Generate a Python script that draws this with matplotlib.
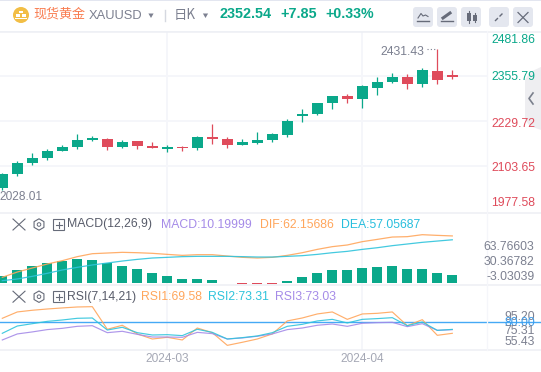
import matplotlib
matplotlib.use('Agg')
import matplotlib.pyplot as plt
from matplotlib.patches import Circle, FancyBboxPatch, Polygon, RegularPolygon, Rectangle

W, H = 541, 372
plt.rcParams['font.family'] = ['Liberation Sans', 'Noto Sans CJK SC', 'DejaVu Sans']

# candles
opens = [2043.0, 2082.2, 2113.0, 2127.0, 2146.6, 2157.8, 2177.4, 2180.2, 2157.8, 2174.6,
         2160.6, 2152.2, 2157.8, 2155.0, 2185.8, 2180.2, 2163.4, 2169.0, 2177.4, 2191.4,
         2244.7, 2250.3, 2281.1, 2300.7, 2292.3, 2323.1, 2339.9, 2353.9, 2334.3, 2370.7, 2359.5]
closes = [2082.2, 2113.0, 2127.0, 2146.6, 2157.8, 2177.4, 2183.0, 2157.8, 2171.8, 2160.6,
          2155.0, 2157.8, 2155.9, 2185.8, 2180.2, 2163.4, 2171.8, 2177.4, 2194.2, 2230.6,
          2250.3, 2281.1, 2300.7, 2292.3, 2328.7, 2339.9, 2353.9, 2334.3, 2373.5, 2345.5, 2353.9]
highs = [2085.0, 2118.6, 2141.0, 2152.2, 2163.4, 2194.2, 2189.5, 2183.0, 2177.4, 2174.6,
         2171.8, 2163.4, 2160.6, 2188.6, 2222.3, 2185.8, 2180.2, 2199.8, 2197.0, 2236.2,
         2264.3, 2281.1, 2300.7, 2306.3, 2331.5, 2353.9, 2365.1, 2362.3, 2379.1, 2431.43, 2373.5]
lows = [2037.3, 2076.6, 2107.4, 2121.4, 2145.7, 2152.2, 2174.6, 2149.4, 2155.0, 2152.2,
        2155.0, 2143.8, 2146.6, 2149.4, 2166.2, 2155.0, 2163.4, 2166.2, 2171.8, 2185.8,
        2227.8, 2247.5, 2264.3, 2281.1, 2267.1, 2303.5, 2337.1, 2320.3, 2325.9, 2334.3, 2348.3]

# MACD pane
hist = [9.7, 17.2, 22.4, 26.0, 29.0, 31.7, 30.4, 26.4, 22.4, 18.5, 13.2, 9.2, 5.3, 5.3, 4.0,
        0.6, -1.0, -1.6, -0.9, 2.6, 7.9, 13.2, 17.2, 17.2, 19.8, 21.1, 22.4, 18.5, 18.5, 13.2, 10.2]
dif = [7.5, 14.5, 19.8, 25.1, 29.5, 34.8, 38.7, 39.6, 40.5, 40.0, 39.2, 37.8, 36.5, 37.4, 37.4,
       35.6, 33.9, 33.0, 33.9, 36.5, 40.0, 44.4, 48.0, 50.2, 54.6, 57.6, 60.7, 61.2, 63.8, 62.9, 62.16]
dea = [3.1, 5.3, 8.8, 12.8, 17.2, 20.7, 23.8, 26.4, 29.0, 31.2, 33.0, 33.9, 34.8, 35.2, 35.2,
       35.2, 34.8, 34.3, 34.3, 35.2, 36.1, 37.8, 40.0, 41.8, 44.4, 46.6, 49.3, 51.5, 53.7, 55.4, 57.06]

# RSI pane
rsi1 = [83.8, 89.8, 91.4, 92.6, 93.6, 94.5, 94.8, 73.4, 77.2, 69.0, 64.2, 65.8, 63.3, 74.6, 70.2,
        58.2, 61.1, 64.2, 69.0, 81.3, 84.1, 87.9, 89.8, 82.8, 87.9, 88.5, 89.8, 76.8, 82.5, 67.7, 69.58]
rsi2 = [69.6, 76.5, 78.7, 80.9, 82.2, 83.8, 84.1, 72.7, 75.3, 70.2, 68.0, 68.3, 67.4, 73.4, 70.5,
        64.2, 65.5, 67.1, 70.2, 76.2, 78.1, 81.3, 82.8, 79.4, 82.8, 83.5, 84.4, 76.8, 80.3, 72.4, 73.31]
rsi3 = [63.3, 69.0, 70.9, 73.1, 74.3, 76.2, 76.8, 70.2, 71.5, 68.6, 66.1, 66.1, 65.8, 70.5, 69.3,
        64.2, 65.2, 66.8, 69.0, 73.1, 74.6, 77.2, 78.4, 76.2, 79.1, 79.7, 80.0, 75.9, 78.7, 72.4, 73.03]

price_ticks = [2481.86, 2355.79, 2229.72, 2103.65]
price_labels = ['2481.86', '2355.79', '2229.72', '2103.65', '1977.58']
macd_labels = ['63.76603', '30.36782', '-3.03039']
rsi_labels = ['95.20', '80.00', '75.31', '55.43']
month_labels = ['2024-03', '2024-04']
month_pos = [11, 24]

TEAL = '#0AA88A'
RED = '#DF4B5B'
GRID = '#F5F6FA'
SEP = '#EDEFF4'
GREY = '#7C8090'
ORANGE = '#FFA65C'
CYAN = '#2FC4DC'
PURPLE = '#A58BE8'
ICON = '#666B79'

x = list(range(len(opens)))
# one candle every 15 px, first one centred at 2.3 px
XLIM = (-2.3 / 15, (W - 2.3) / 15)
GRID_END = 487 / W  # grid stops at the price column

fig = plt.figure(figsize=(W / 100, H / 100), dpi=100, facecolor='white')


def pane(top, bottom, ylim):
    ax = fig.add_axes([0, 1 - bottom / H, 1, (bottom - top) / H])
    ax.set_xlim(*XLIM)
    ax.set_ylim(*ylim)
    ax.patch.set_alpha(0)
    ax.set_xticks([])
    ax.set_yticks([])
    for s in ax.spines.values():
        s.set_visible(False)
    for m in month_pos:
        ax.axvline(m, color=GRID, lw=1.3, zorder=0)
    return ax


# main pane
ax1 = pane(31, 212.7, (1973.8, 2482.8))
for p in price_ticks:
    ax1.axhline(p, xmax=GRID_END, color=GRID, lw=1.3, zorder=0)
for i in x:
    col = TEAL if closes[i] >= opens[i] else RED
    ax1.vlines(i, lows[i], highs[i], color=col, lw=0.9, zorder=2)
    ax1.bar(i, abs(closes[i] - opens[i]), bottom=min(opens[i], closes[i]), width=0.73, color=col, zorder=3)
hi = max(highs)
hi_i = highs.index(hi)
ax1.plot([hi_i - 0.72, hi_i], [hi, hi], color=GREY, lw=0.8, ls=(0, (1, 2)))
ax1.text(hi_i - 0.87, hi - 7, f'{hi:.2f}', ha='right', va='center', color=GREY, fontsize=8.8)

# MACD pane
ax2 = pane(212.7, 285, (-2.64, 92.84))
ax2.bar(x, hist, width=0.67, color=[TEAL if v > 0 else RED for v in hist], zorder=2)
ax2.plot(x, dif, color=ORANGE, lw=0.9, alpha=0.9, zorder=3)
ax2.plot(x, dea, color=CYAN, lw=0.9, alpha=0.9, zorder=3)

# RSI pane
ax3 = pane(285, 350, (53.8, 115.3))
ax3.axhline(80, color='#45A9F5', lw=1.0, zorder=1)
ax3.plot(x, rsi1, color=ORANGE, lw=0.85, alpha=0.9, zorder=2)
ax3.plot(x, rsi2, color=CYAN, lw=0.85, alpha=0.9, zorder=3)
ax3.plot(x, rsi3, color=PURPLE, lw=0.85, alpha=0.9, zorder=2)

# page furniture in pixel coordinates
ui = fig.add_axes([0, 0, 1, 1], zorder=5)
ui.set_xlim(0, W)
ui.set_ylim(H, 0)
ui.axis('off')
ui.patch.set_alpha(0)

ui.add_patch(Rectangle((0, 0), W, 1, color='#E3E6F0', lw=0))
ui.add_patch(Polygon([(541, 67), (530, 72), (525, 80), (525, 120), (530, 126), (541, 130)], color='#EEEEF1', lw=0, zorder=0))
ui.plot([533, 529, 533], [93, 98.5, 104], color='#7A7F8C', lw=1.2)
ui.plot([540.5, 540.5], [55, H], color='#8F93A0', lw=0.7)
for yy, c in [(31.5, SEP), (212.7, SEP), (285, SEP), (350, SEP)]:
    ui.plot([0, 541], [yy, yy], color=c, lw=1.1, zorder=0)
ui.plot([487, 487], [31, 350], color=GRID, lw=0.9, zorder=0)

# header
ui.add_patch(Circle((21, 15), 8, color='#F2BE45', lw=0))
ui.add_patch(Rectangle((19, 10.5), 4, 2.5, color='white', lw=0))
ui.add_patch(Rectangle((16, 14), 4, 3, color='white', lw=0))
ui.add_patch(Rectangle((21.5, 14), 4, 3, color='white', lw=0))
ui.add_patch(Rectangle((15, 17.5), 12, 1, color='white', lw=0))
ui.text(33, 14.5, '现货黄金', color='#F97C50', fontsize=9.4, va='center', family=['Noto Sans CJK SC', 'DejaVu Sans'])
ui.text(89, 16, 'XAUUSD', color=GREY, fontsize=9.3, va='center')
# y axis is flipped here, so orientation 0 points down
ui.add_patch(RegularPolygon((151, 15), 3, radius=3, orientation=0, color=GREY, lw=0))
ui.plot([164.5, 164.5], [10, 21], color='#D5D8E0', lw=1)
ui.text(174, 14.5, '日K', color=GREY, fontsize=9.6, va='center', family=['Noto Sans CJK SC', 'DejaVu Sans'])
ui.add_patch(RegularPolygon((205.5, 15), 3, radius=3, orientation=0, color=GREY, lw=0))
ui.text(219, 14.5, '2352.54', color=TEAL, fontsize=10.4, weight='bold', va='center')
ui.text(280, 14.5, '+7.85', color=TEAL, fontsize=10.4, weight='bold', va='center')
ui.text(325, 14.5, '+0.33%', color=TEAL, fontsize=10.2, weight='bold', va='center')

# buttons top right
for bx in [413, 437, 461, 489, 513]:
    ui.add_patch(FancyBboxPatch((bx + 2, 9), 16, 16, boxstyle='round,pad=2,rounding_size=3', color='#E4E7EF', lw=0))
ui.plot([418, 421, 423, 425.5, 428], [18, 13.5, 16, 15, 16.5], color=ICON, lw=0.8)
ui.plot([417, 429], [20.5, 20.5], color=ICON, lw=1.0)
ui.plot([443, 450], [18, 13], color=ICON, lw=2.2)
ui.plot([441, 453], [20.5, 20.5], color=ICON, lw=1.0)
ui.add_patch(Rectangle((467, 13), 4, 8, color=ICON, lw=0))
ui.add_patch(Rectangle((473, 15), 4, 6, color=ICON, lw=0))
ui.plot([469, 469], [11, 23], color=ICON, lw=0.8)
ui.plot([475, 475], [13, 22], color=ICON, lw=0.8)
ui.plot([495, 503], [21, 13], color=ICON, lw=1, ls=(0, (3, 1.6)))
ui.plot([518, 528], [12.5, 22.5], color=ICON, lw=0.9)
ui.plot([518, 528], [22.5, 12.5], color=ICON, lw=0.9)

# price labels, the outer ones are pushed inward in the reference
for lab, yy, c in zip(price_labels, [40, 77, 123.7, 168, 203], [TEAL, TEAL, RED, RED, RED]):
    ui.text(535.5, yy, lab, color=c, fontsize=8.8, ha='right', va='center')
for lab, yy in zip(macd_labels, [246.7, 261.7, 276.7]):
    ui.text(534.5, yy, lab, color=GREY, fontsize=8.8, ha='right', va='center')
for lab, yy, c in zip(rsi_labels, [317.3, 323.3, 331.3, 342], [GREY, '#3C9CEB', GREY, GREY]):
    ui.text(535, yy, lab, color=c, fontsize=8.8, ha='right', va='center')

ui.text(-1, 196.7, '2028.01', color=GREY, fontsize=8.6, va='center')
for m, lab in zip(month_pos, month_labels):
    ui.text(2.3 + m * 15 - 0.5, 358.7, lab, color='#A5A8B5', fontsize=8.6, ha='center', va='center')


def pane_icons(yy):
    ui.plot([13, 25], [yy - 5.5, yy + 5.5], color=ICON, lw=0.8)
    ui.plot([13, 25], [yy + 5.5, yy - 5.5], color=ICON, lw=0.8)
    ui.add_patch(RegularPolygon((39, yy), 6, radius=5.7, fill=False, ec=ICON, lw=0.8))
    ui.add_patch(Circle((39, yy), 1.8, fill=False, ec=ICON, lw=0.7))
    ui.add_patch(Rectangle((53, yy - 5.5), 11, 11, fill=False, ec=ICON, lw=0.8))
    ui.plot([58.5, 58.5], [yy - 3, yy + 3], color=ICON, lw=0.8)
    ui.plot([55.5, 61.5], [yy, yy], color=ICON, lw=0.8)


pane_icons(224.5)
pane_icons(296.7)

fs = 8.8
ui.text(67.5, 224.5, 'MACD(12,26,9)', color='#585C6A', fontsize=fs, va='center')
ui.text(161, 224.5, 'MACD:10.19999', color=PURPLE, fontsize=fs, va='center')
ui.text(260, 224.5, 'DIF:62.15686', color=ORANGE, fontsize=fs, va='center')
ui.text(341.5, 224.5, 'DEA:57.05687', color='#27BEDD', fontsize=fs, va='center')
ui.text(67.5, 296.7, 'RSI(7,14,21)', color='#585C6A', fontsize=fs, va='center')
ui.text(141.5, 296.7, 'RSI1:69.58', color=ORANGE, fontsize=fs, va='center')
ui.text(208, 296.7, 'RSI2:73.31', color=CYAN, fontsize=fs, va='center')
ui.text(274.5, 296.7, 'RSI3:73.03', color=PURPLE, fontsize=fs, va='center')

fig.savefig('out.png', dpi=100)
